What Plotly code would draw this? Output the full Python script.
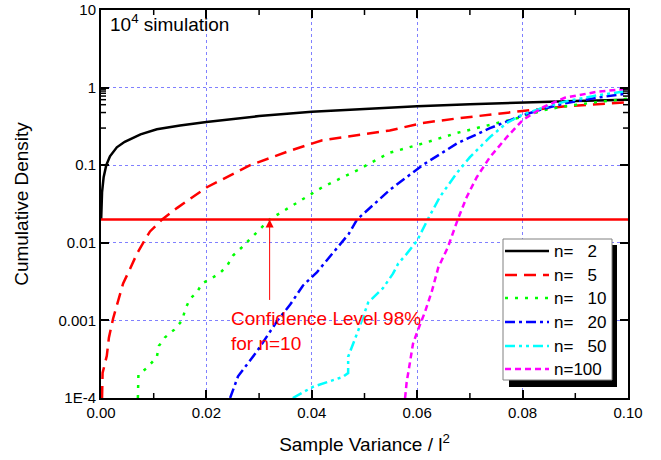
import plotly.graph_objects as go
import math

# ---------------- data ----------------
x_n2 = [0.00003, 0.0002, 0.0005, 0.001, 0.0017, 0.003, 0.0045, 0.0075, 0.0106, 0.015,
        0.02, 0.03, 0.04, 0.05, 0.06, 0.07, 0.08, 0.09, 0.1]
y_n2 = [0.02, 0.045, 0.07, 0.1, 0.13, 0.17, 0.2, 0.25, 0.29, 0.325,
        0.36, 0.43, 0.49, 0.535, 0.575, 0.61, 0.645, 0.673, 0.695]

x_n5 = [0.0002, 0.0003, 0.0011, 0.0015, 0.0023, 0.0032, 0.0042, 0.0055, 0.0068, 0.008,
        0.0093, 0.0116, 0.0144, 0.0201, 0.0283, 0.036, 0.042, 0.0548, 0.061, 0.0675,
        0.0738, 0.080, 0.0877, 0.1]
y_n5 = [1e-4, 2.1e-4, 3.5e-4, 6e-4, 0.00106, 0.0018, 0.003, 0.0046, 0.0072, 0.01,
        0.014, 0.02, 0.028, 0.052, 0.1, 0.155, 0.21, 0.28, 0.35, 0.40,
        0.45, 0.50, 0.57, 0.65]

x_n10 = [0.007, 0.007, 0.0071, 0.0089, 0.0106, 0.011, 0.0121, 0.0139, 0.0154, 0.016,
         0.0169, 0.0182, 0.0192, 0.021, 0.0226, 0.0239, 0.025, 0.0267, 0.028, 0.032,
         0.042, 0.0486, 0.0548, 0.061, 0.0675, 0.0738, 0.080, 0.0839, 0.0877, 0.094, 0.1]
y_n10 = [1e-4, 1.5e-4, 2.0e-4, 2.5e-4, 3.4e-4, 4.7e-4, 6.0e-4, 7.6e-4, 0.001, 0.0014,
         0.0019, 0.0023, 0.003, 0.0035, 0.0041, 0.005, 0.0068, 0.0087, 0.0107, 0.02,
         0.052, 0.086, 0.145, 0.19, 0.26, 0.33, 0.42, 0.51, 0.57, 0.65, 0.72]

x_n20 = [0.0245, 0.026, 0.0296, 0.0335, 0.0359, 0.0383, 0.041, 0.044, 0.047, 0.0486,
         0.0548, 0.061, 0.0675, 0.0738, 0.080, 0.0839, 0.0877, 0.094, 0.1]
y_n20 = [1e-4, 1.9e-4, 4e-4, 0.001, 0.0016, 0.0028, 0.0042, 0.0075, 0.013, 0.02,
         0.048, 0.1, 0.19, 0.30, 0.44, 0.53, 0.62, 0.74, 0.84]

x_n50 = [0.0364, 0.0402, 0.0459, 0.0469, 0.0469, 0.0476, 0.0488, 0.0507, 0.0523, 0.0535,
         0.0554, 0.0564, 0.058, 0.060, 0.062, 0.0643, 0.0675, 0.070, 0.0738, 0.077,
         0.080, 0.0839, 0.088, 0.094, 0.1]
y_n50 = [1e-4, 1.39e-4, 1.87e-4, 2.1e-4, 3.4e-4, 4.5e-4, 7.4e-4, 0.0017, 0.0022, 0.0026,
         0.0040, 0.0054, 0.0072, 0.0107, 0.02, 0.039, 0.079, 0.127, 0.23, 0.35,
         0.45, 0.55, 0.66, 0.79, 0.91]

x_n100 = [0.0577, 0.058, 0.0586, 0.0592, 0.0601, 0.0615, 0.0628, 0.064, 0.0658, 0.0677,
          0.0694, 0.0713, 0.0738, 0.077, 0.080, 0.0839, 0.088, 0.094, 0.1]
y_n100 = [1e-4, 1.6e-4, 2.8e-4, 5e-4, 7.4e-4, 0.0013, 0.0024, 0.0048, 0.0087, 0.02,
          0.039, 0.07, 0.127, 0.23, 0.38, 0.56, 0.74, 0.88, 0.97]

confidence_level = 0.02
arrow_x = 0.032

# minor tick positions (axis decoration)
x_minor = [0.01, 0.03, 0.05, 0.07, 0.09]
y_minor = [m * 10 ** e for e in range(-4, 1) for m in range(2, 10)]

# tick label aliases for the log axis (the smallest decade is shown as "1E-4")
y_label_alias = {"0.0001": "1E-4", "1e\u22124": "1E-4", "1e-4": "1E-4",
                 "100\u03bc": "1E-4", "100\u00b5": "1E-4"}

NB = "\u00a0"
legend_labels = ["n=" + NB * 3 + "2", "n=" + NB * 3 + "5", "n=" + NB * 3 + "10",
                 "n=" + NB * 3 + "20", "n=" + NB * 3 + "50", "n=100"]
series_x = [x_n2, x_n5, x_n10, x_n20, x_n50, x_n100]
series_y = [y_n2, y_n5, y_n10, y_n20, y_n50, y_n100]
colors = ["black", "#ff0000", "#00ff00", "#0000ff", "#00ffff", "#ff00ff"]
dashes = ["solid", "12px,7px", "3px,7px", "10px,4px,3px,4px",
          "10px,4px,3px,4px,3px,4px", "6px,4px"]

FONT = "Liberation Sans, Arial, sans-serif"

# plot-area geometry in pixels
W, H = 661, 460
L, R, T, B = 101, 33, 10, 62
pw, ph = W - L - R, H - T - B


def px_x(p):
    return (p - L) / pw


def px_y(p):
    return 1 - (p - T) / ph


fig = go.Figure()
for name, xs, ys, col, dash in zip(legend_labels, series_x, series_y, colors, dashes):
    fig.add_trace(go.Scatter(x=xs, y=ys, mode="lines", name=name, showlegend=False,
                             line=dict(color=col, width=2.5, dash=dash)))

# confidence level line
fig.add_trace(go.Scatter(x=[0, 0.1], y=[confidence_level, confidence_level], mode="lines",
                         line=dict(color="#ff0000", width=2.5), showlegend=False,
                         hoverinfo="skip"))

axis_common = dict(showline=True, linecolor="black", linewidth=2, mirror="allticks",
                   ticks="inside", ticklen=8, tickwidth=2, tickcolor="black",
                   showgrid=True, gridcolor="#8080ff", griddash="dot", gridwidth=1,
                   zeroline=False, automargin=False,
                   tickfont=dict(family=FONT, size=15, color="black"))

fig.update_xaxes(range=[0, 0.1], tick0=0, dtick=0.02, tickformat=".2f",
                 title=dict(text="Sample Variance / l<sup>2</sup>",
                            font=dict(family=FONT, size=19, color="black"), standoff=18),
                 **axis_common)
fig.update_yaxes(type="log", range=[-4, 1], dtick=1, exponentformat="none",
                 labelalias=y_label_alias,
                 title=dict(text="Cumulative Density",
                            font=dict(family=FONT, size=19, color="black"), standoff=25),
                 **axis_common)

# minor ticks, inside on all four sides, placed through the axes
MINOR = 5
tick_line = dict(color="black", width=1.5)
for xv in x_minor:
    fig.add_shape(type="line", xref="x", yref="paper", x0=xv, x1=xv,
                  ysizemode="pixel", yanchor=0, y0=0, y1=MINOR, line=tick_line,
                  layer="above")
    fig.add_shape(type="line", xref="x", yref="paper", x0=xv, x1=xv,
                  ysizemode="pixel", yanchor=1, y0=-MINOR, y1=0, line=tick_line,
                  layer="above")
for yv in y_minor:
    ly = math.log10(yv)
    fig.add_shape(type="line", xref="paper", yref="y", y0=ly, y1=ly,
                  xsizemode="pixel", xanchor=0, x0=0, x1=MINOR, line=tick_line,
                  layer="above")
    fig.add_shape(type="line", xref="paper", yref="y", y0=ly, y1=ly,
                  xsizemode="pixel", xanchor=1, x0=-MINOR, x1=0, line=tick_line,
                  layer="above")

# ---- manual legend (shadow, box, samples, labels) ----
fig.add_shape(type="rect", xref="paper", yref="paper",
              x0=px_x(509), x1=px_x(617), y0=px_y(387), y1=px_y(245),
              fillcolor="black", line=dict(width=0), layer="above")
fig.add_shape(type="rect", xref="paper", yref="paper",
              x0=px_x(503), x1=px_x(612), y0=px_y(380), y1=px_y(239),
              fillcolor="white", line=dict(color="#808080", width=1), layer="above")
row_y = [251, 275, 298, 322, 346, 369]
for lab, col, dash, ry in zip(legend_labels, colors, dashes, row_y):
    fig.add_shape(type="line", xref="paper", yref="paper",
                  x0=px_x(505), x1=px_x(549), y0=px_y(ry), y1=px_y(ry),
                  line=dict(color=col, width=2.5, dash=dash), layer="above")
    fig.add_annotation(xref="paper", yref="paper", x=px_x(552), y=px_y(ry),
                       xanchor="left", yanchor="middle", showarrow=False, text=lab,
                       font=dict(family=FONT, size=17, color="black"))

fig.add_annotation(xref="paper", yref="paper", x=px_x(108), y=px_y(23),
                   xanchor="left", yanchor="middle", showarrow=False,
                   text="10<sup>4</sup> simulation",
                   font=dict(family=FONT, size=19, color="black"))

# arrow pointing at the 98% level for n=10 (tail 82 px below the head)
fig.add_annotation(xref="x", yref="y", x=arrow_x, y=math.log10(confidence_level),
                   ax=0, ay=82, text="", showarrow=True, arrowhead=2, arrowsize=1.6,
                   arrowwidth=1, arrowcolor="#ff0000", standoff=0, startstandoff=0)

fig.add_annotation(xref="paper", yref="paper", x=px_x(229), y=px_y(331),
                   xanchor="left", yanchor="middle", align="left", showarrow=False,
                   text="Confidence Level 98%<br>for n=10",
                   font=dict(family=FONT, size=19, color="#ff0000"))

fig.update_layout(
    width=W, height=H,
    margin=dict(l=L, r=R, t=T, b=B, autoexpand=False),
    paper_bgcolor="white", plot_bgcolor="white",
    font=dict(family=FONT, color="black"),
    showlegend=False,
)

fig.write_html("out.html")
